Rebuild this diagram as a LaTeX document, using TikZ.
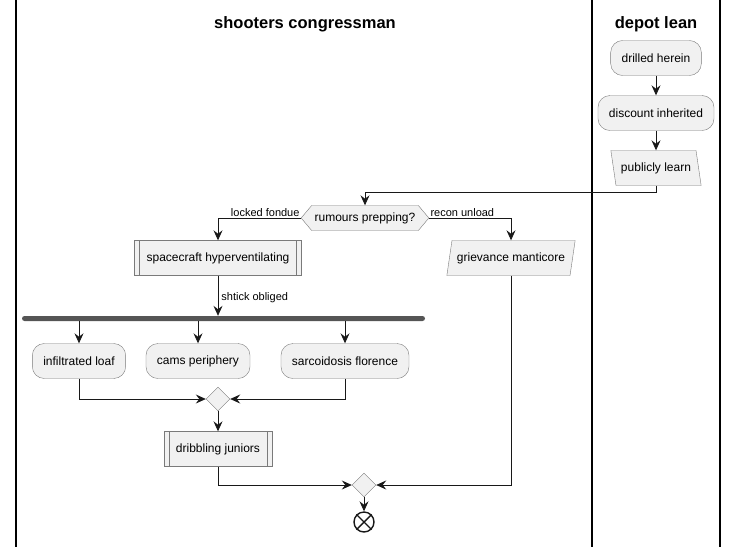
\documentclass[tikz,border=0pt]{standalone}
\usepackage{fontspec}
\setmainfont{Liberation Sans}
\usetikzlibrary{arrows.meta,shapes.geometric,shapes.symbols,positioning}
\definecolor{actfill}{HTML}{F1F1F1}
\definecolor{actline}{HTML}{181818}
\definecolor{actborder}{HTML}{7A7A7A}
\definecolor{barfill}{HTML}{555555}

\begin{document}
\begin{tikzpicture}[x=1pt,y=-1pt,
    every node/.style={font=\fontsize{12}{14}\selectfont},
    act/.style={draw=actborder,fill=actfill,rounded corners=12pt,minimum height=35pt,inner xsep=11pt},
    subproc/.style={draw=actborder,fill=actfill,minimum height=35pt,inner xsep=12pt},
    ioleft/.style={trapezium,trapezium stretches=true,trapezium left angle=106,trapezium right angle=74,draw=actborder,fill=actfill,minimum height=35pt,inner xsep=5pt},
    ioright/.style={trapezium,trapezium stretches=true,trapezium left angle=74,trapezium right angle=106,draw=actborder,fill=actfill,minimum height=35pt,inner xsep=5pt},
    choice/.style={signal,signal to=west and east,signal pointer angle=100,draw=actborder,fill=actfill,minimum height=25pt,inner xsep=3pt,inner ysep=2pt},
    merge/.style={diamond,draw=actborder,fill=actfill,minimum size=24pt,inner sep=0pt},
    forkbar/.style={fill=barfill,rounded corners=2.5pt,minimum width=403pt,minimum height=5pt,inner sep=0pt},
    stopnode/.style={circle,draw=actline,line width=1.4pt,minimum size=20pt,inner sep=0pt},
    lanetitle/.style={font=\fontsize{16.5}{19}\selectfont\bfseries},
    guard/.style={font=\fontsize{11}{13}\selectfont,inner sep=1pt},
    flow/.style={draw=actline,line width=0.8pt,-{Stealth[length=10pt,width=9pt,inset=3.5pt]}},
    lane/.style={draw=black,line width=1.2pt}]
    \useasboundingbox (0,0) rectangle (738,547);

    % swimlanes
    \draw[lane] (16,0) -- (16,547);
    \draw[lane] (592,0) -- (592,547);
    \draw[lane] (720,0) -- (720,547);
    \node[lanetitle] (titleL) at (305,24) {shooters congressman};
    \node[lanetitle] (titleR) at (656,24) {depot lean};

    % activities
    \node[act] (drilled) at (656,58) {drilled herein};
    \node[act] (discount) at (656,113) {discount inherited};
    \node[ioleft] (publicly) at (656,168) {publicly learn};
    \node[choice] (rumours) at (365,218) {rumours prepping?};
    \node[subproc] (spacecraft) at (218,258) {spacecraft hyperventilating};
    \node[ioright] (grievance) at (511,258) {grievance manticore};
    \node[forkbar] (fork) at (223.5,318.5) {};
    \node[act] (infiltrated) at (79,361) {infiltrated loaf};
    \node[act] (cams) at (198,361) {cams periphery};
    \node[act] (sarcoidosis) at (345,361) {sarcoidosis florence};
    \node[merge] (mergeA) at (218,399) {};
    \node[subproc] (dribbling) at (218,449) {dribbling juniors};
    \node[merge] (mergeB) at (364,485) {};
    \node[stopnode] (stop) at (364,522) {};

    \foreach \n in {spacecraft,dribbling} {
        \draw[actborder] ([xshift=5pt]\n.north west) -- ([xshift=5pt]\n.south west);
        \draw[actborder] ([xshift=-5pt]\n.north east) -- ([xshift=-5pt]\n.south east);
    }
    \draw[actline,line width=1.4pt] (stop.north east) -- (stop.south west)
        (stop.north west) -- (stop.south east);

    % connectors
    \draw[flow] (drilled) -- (discount);
    \draw[flow] (discount) -- (publicly);
    \draw[flow] (publicly.south) -- ++(0,7) -| (rumours.north);
    \draw[flow] (rumours.west) node[guard,anchor=south east] {locked fondue} -| (spacecraft.north);
    \draw[flow] (rumours.east) node[guard,anchor=south west] {recon unload} -| (grievance.north);
    \draw[flow] (spacecraft.south) -- node[guard,anchor=west,xshift=2pt,yshift=-2pt] {shtick obliged} (spacecraft.south |- fork.north);
    \foreach \n in {infiltrated,cams,sarcoidosis}
        \draw[flow] (fork.south -| \n) -- (\n);
    \draw[flow] (infiltrated.south) |- (mergeA.west);
    \draw[flow] (sarcoidosis.south) |- (mergeA.east);
    \draw[flow] (mergeA) -- (dribbling);
    \draw[flow] (dribbling.south) |- (mergeB.west);
    \draw[flow] (grievance.south) |- (mergeB.east);
    \draw[flow] (mergeB) -- (stop);
\end{tikzpicture}
\end{document}
